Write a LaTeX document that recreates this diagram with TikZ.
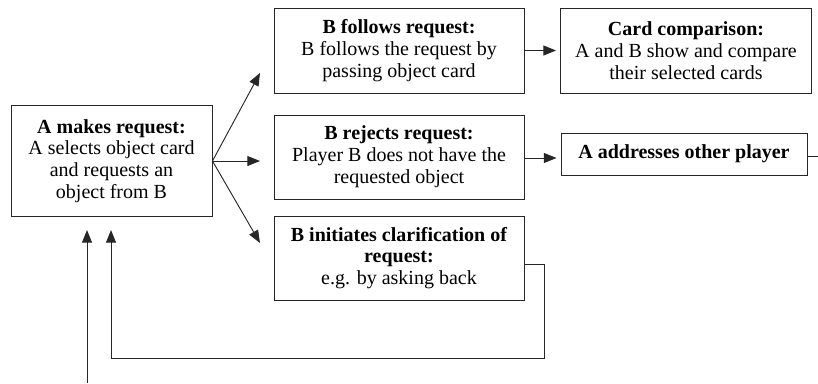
\documentclass[tikz,border=0pt]{standalone}
\usepackage{fontspec}
\setmainfont{Liberation Serif}
\usepackage{tikz}
\usetikzlibrary{arrows.meta}
\usetikzlibrary{calc}

\def\thickness{0.7pt}
\tikzstyle{stepbox}=[draw=black!85, line width=\thickness, align=center, inner sep=0pt, font=\fontsize{15}{16.4}\selectfont]
\tikzstyle{thick}=[line width=\thickness, draw=black!85]
\tikzset{arr/.style={thick, -{Triangle[length=9.5pt, width=7.5pt]}}}

\begin{document}
\begin{tikzpicture}[x=0.75pt, y=-0.75pt]
\useasboundingbox (0,0) rectangle (818,383);
\node [stepbox, minimum width=201*0.75pt, minimum height=111*0.75pt] (makes) at (111.5,161)
  {\textbf{A makes request:}\\A selects object card\\and requests an\\object from B};
\node [stepbox, minimum width=250*0.75pt, minimum height=85*0.75pt] (follows) at (399,50.5)
  {\textbf{B follows request:}\\B follows the request by\\passing object card};
\node [stepbox, minimum width=250*0.75pt, minimum height=84*0.75pt] (rejects) at (399,157)
  {\textbf{B rejects request:}\\Player B does not have the\\requested object};
\node [stepbox, minimum width=250*0.75pt, minimum height=84*0.75pt] (clarify) at (399,258)
  {\textbf{B initiates clarification of}\\\textbf{request:}\\e.g. by asking back};
\node [stepbox, minimum width=251*0.75pt, minimum height=85*0.75pt] (compare) at (686,50.5)
  {\textbf{Card comparison:}\\A and B show and compare\\their selected cards};
\node [stepbox, minimum width=246*0.75pt, minimum height=42*0.75pt] (other) at (684,154)
  {\textbf{A addresses other player}};

\coordinate (tipup) at (260,73);
\coordinate (tipmid) at (260,161);
\coordinate (tipdown) at (260,243);
\coordinate (fbturn) at (544,358);
\coordinate (fbtip) at (111,230);
\coordinate (intip) at (87,230);
\coordinate (inbase) at (87,383);
\coordinate (out) at (818,152);

\draw [arr] (makes.east) to (tipup);
\draw [arr] (makes.east) to (tipmid);
\draw [arr] (makes.east) to (tipdown);
\draw [arr] (follows.east) to ($(compare.west)+(-4,0)$);
\draw [arr] ([yshift=-0.75pt]rejects.east) to ([yshift=-0.75pt]$(rejects.east -| other.west)+(-4,0)$);
\draw [thick] ([yshift=-1.5pt]other.east) to ([yshift=-1.5pt]other.east -| out);
\draw [arr] ([yshift=-4.5pt]clarify.east) -| (fbturn) -| (fbtip);
\draw [arr] (inbase) to (intip);
\end{tikzpicture}
\end{document}
